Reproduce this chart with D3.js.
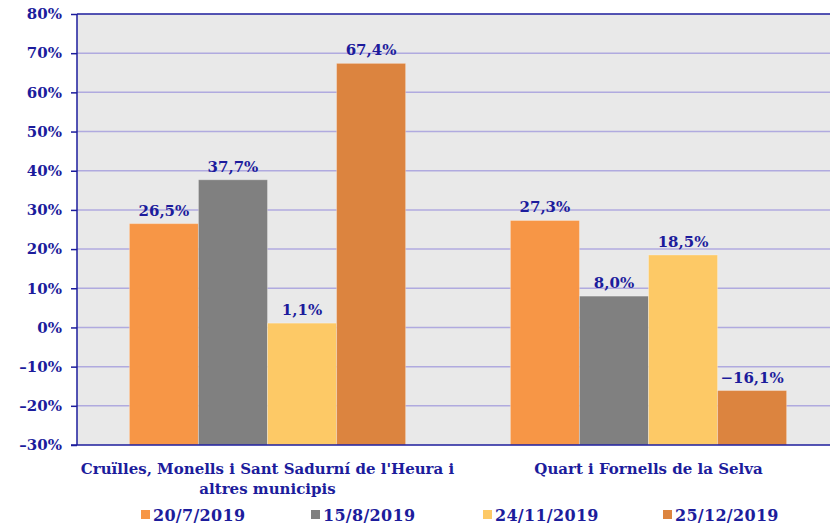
<!DOCTYPE html>
<html>
<head>
<meta charset="utf-8">
<script src="https://cdn.jsdelivr.net/npm/d3@7"></script>
<style>
  body { margin: 0; background: #fff; }
  svg text { font-family: "DejaVu Serif", serif; font-weight: bold; fill: #1c1c9c; }
</style>
</head>
<body>
<svg id="chart" width="830" height="525"></svg>
<script>
// chart data
const categories = [
  ["Cruïlles, Monells i Sant Sadurní de l'Heura i", "altres municipis"],
  ["Quart i Fornells de la Selva"]
];
const seriesNames = ["20/7/2019", "15/8/2019", "24/11/2019", "25/12/2019"];
const seriesColors = ["#f79646", "#808080", "#fdc966", "#dc843f"];
const values = [
  [26.5, 27.3],
  [37.7, 8.0],
  [1.1, 18.5],
  [67.4, -16.1]
];
const yTicks = [-30, -20, -10, 0, 10, 20, 30, 40, 50, 60, 70, 80];

const svg = d3.select('svg#chart');
const plot = { left: 77, right: 839, top: 14, bottom: 445 };

const xScale = d3.scaleBand()
    .domain(d3.range(categories.length))
    .range([plot.left, plot.right]);

const inner = d3.scaleBand()
    .domain(d3.range(seriesNames.length))
    .range([0, xScale.bandwidth() * 0.725])
    .padding(0);

const yScale = d3.scaleLinear()
    .domain([-30, 80])
    .range([plot.bottom, plot.top]);

const fmt = v => d3.format('.1f')(v).replace('.', ',').replace('-', '\u2013') + '%';

// plot background
svg.append('rect')
    .attr('x', plot.left)
    .attr('y', plot.top)
    .attr('width', plot.right - plot.left)
    .attr('height', plot.bottom - plot.top)
    .attr('fill', '#e9e9e9');

// gridlines
svg.append('g')
    .selectAll('line')
    .data(yTicks.slice(1, -1))
    .enter()
    .append('line')
    .attr('x1', plot.left)
    .attr('x2', plot.right)
    .attr('y1', d => yScale(d))
    .attr('y2', d => yScale(d))
    .attr('stroke', '#b0aadf')
    .attr('stroke-width', 1.5);

// top border
svg.append('line')
    .attr('x1', plot.left).attr('x2', plot.right)
    .attr('y1', plot.top).attr('y2', plot.top)
    .attr('stroke', '#1c1c9c').attr('stroke-width', 1.5);

// bars, drawn from the bottom of the axis
const groups = svg.append('g')
    .selectAll('g')
    .data(seriesNames)
    .enter()
    .append('g')
    .attr('fill', (d, i) => seriesColors[i]);

groups.each(function(name, s) {
    const g = d3.select(this);
    const offset = (xScale.bandwidth() - inner.range()[1]) / 2;
    g.selectAll('rect')
        .data(values[s])
        .enter()
        .append('rect')
        .attr('x', (d, c) => xScale(c) + offset + inner(s))
        .attr('y', d => yScale(d))
        .attr('width', inner.bandwidth())
        .attr('height', d => yScale(-30) - yScale(d))
        .attr('stroke', 'rgba(255,255,255,0.3)')
        .attr('stroke-width', 1);
    g.selectAll('text')
        .data(values[s])
        .enter()
        .append('text')
        .attr('x', (d, c) => xScale(c) + offset + inner(s) + inner.bandwidth() / 2)
        .attr('y', d => yScale(d) - 8)
        .attr('text-anchor', 'middle')
        .style('font-size', '15px')
        .text(d => fmt(d));
});

// y axis
const yAxis = d3.axisLeft(yScale)
    .tickValues(yTicks)
    .tickSize(6)
    .tickPadding(9)
    .tickFormat(d => (d < 0 ? '\u2013' : '') + Math.abs(d) + '%');

svg.append('g')
    .attr('id', 'y-axis')
    .attr('transform', `translate(${plot.left}, 0)`)
    .call(yAxis)
    .call(g => g.select('.domain').remove())
    .call(g => g.selectAll('.tick line').attr('stroke', '#1c1c9c').attr('stroke-width', 1.5))
    .call(g => g.selectAll('.tick text')
        .style('font-size', '15px')
        .attr('fill', '#1c1c9c')
        .style('font-family', '"DejaVu Serif", serif'));

svg.append('line')
    .attr('x1', plot.left).attr('x2', plot.left)
    .attr('y1', plot.top).attr('y2', plot.bottom)
    .attr('stroke', '#1c1c9c').attr('stroke-width', 1.5);

// x axis line
svg.append('line')
    .attr('x1', plot.left - 6).attr('x2', plot.right)
    .attr('y1', plot.bottom).attr('y2', plot.bottom)
    .attr('stroke', '#1c1c9c').attr('stroke-width', 1.5);

// category labels
svg.append('g')
    .selectAll('text')
    .data(categories)
    .enter()
    .append('text')
    .attr('text-anchor', 'middle')
    .style('font-size', '15px')
    .each(function(lines, c) {
        d3.select(this).selectAll('tspan')
            .data(lines)
            .enter()
            .append('tspan')
            .attr('x', xScale(c) + xScale.bandwidth() / 2)
            .attr('y', (d, i) => 474 + i * 20)
            .text(d => d);
    });

// legend
const legendX = [141, 311, 483, 663];
const legend = svg.append('g')
    .selectAll('g')
    .data(seriesNames)
    .enter()
    .append('g')
    .attr('transform', (d, i) => `translate(${legendX[i]}, 515)`);

legend.append('rect')
    .attr('x', 0)
    .attr('y', -5)
    .attr('width', 9)
    .attr('height', 9)
    .attr('fill', (d, i) => seriesColors[i]);

legend.append('text')
    .attr('x', 12)
    .attr('y', 6)
    .style('font-size', '16px')
    .style('letter-spacing', '0.3px')
    .text(d => d);
</script>
</body>
</html>
